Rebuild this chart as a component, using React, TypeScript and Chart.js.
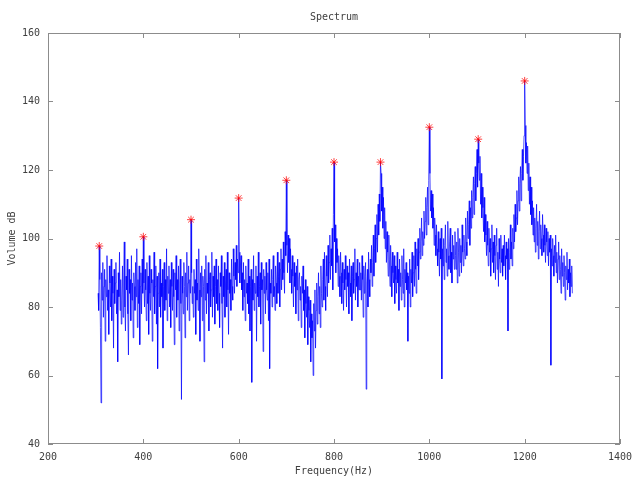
import React, { useEffect, useRef } from "react";
import { Chart, registerables } from "chart.js";

Chart.register(...registerables);

const freqStart = 305;
const freqStep = 1.25;

// one row = 50 Hz (40 samples)
const volumeDb: number[] = [
  // 305
  84, 79, 97.8, 88, 74, 52, 90, 82, 93, 77, 86, 91, 70, 88, 83, 95, 79, 85, 72, 92, 87, 80, 94, 76, 89, 84, 68, 91, 81, 87, 93, 78, 85, 64, 90, 83, 96, 79, 88, 75,
  // 355
  82, 92, 77, 87, 99, 80, 73, 89, 85, 94, 78, 66, 91, 84, 88, 76, 95, 82, 87, 71, 90, 86, 79, 93, 83, 97, 74, 88, 81, 92, 69, 86, 90, 78, 94, 84, 100.5, 87, 80, 91,
  // 405
  85, 76, 93, 81, 89, 72, 95, 84, 79, 91, 87, 70, 88, 83, 96, 78, 86, 92, 75, 89, 62, 84, 90, 80, 94, 77, 87, 83, 91, 68, 86, 93, 79, 88, 82, 97, 76, 89, 84, 92,
  // 455
  80, 88, 74, 93, 86, 79, 91, 83, 69, 90, 85, 95, 77, 88, 82, 92, 73, 87, 94, 81, 53, 89, 84, 78, 93, 86, 71, 90, 83, 96, 79, 87, 92, 76, 88, 84, 105.5, 90, 81, 86,
  // 505
  77, 91, 84, 88, 72, 94, 82, 87, 79, 97, 85, 70, 90, 83, 92, 76, 89, 86, 64, 91, 82, 95, 78, 87, 84, 93, 73, 88, 90, 80, 85, 96, 77, 89, 83, 92, 75, 86, 94, 81,
  // 555
  88, 79, 92, 84, 74, 90, 86, 95, 81, 68, 89, 83, 93, 77, 87, 91, 80, 96, 85, 72, 90, 84, 88, 79, 94, 86, 82, 97, 89, 84, 93, 88, 98, 86, 94, 90, 111.8, 96, 87, 92,
  // 605
  95, 85, 90, 79, 93, 83, 88, 76, 92, 84, 87, 81, 94, 78, 89, 73, 86, 91, 58, 88, 82, 95, 79, 87, 84, 92, 70, 89, 83, 96, 80, 86, 90, 75, 93, 85, 88, 67, 91, 84,
  // 655
  89, 78, 93, 85, 82, 90, 76, 94, 62, 87, 84, 91, 80, 88, 95, 83, 86, 79, 92, 87, 81, 96, 84, 89, 93, 80, 91, 97, 85, 94, 88, 99, 90, 84, 102, 95, 117, 98, 90, 101,
  // 705
  93, 100, 87, 97, 91, 84, 95, 89, 80, 93, 86, 90, 78, 92, 85, 94, 76, 88, 90, 82, 86, 74, 89, 84, 92, 79, 85, 71, 88, 81, 77, 86, 69, 83, 79, 74, 82, 64, 78, 71,
  // 755
  76, 60, 81, 73, 85, 68, 79, 87, 75, 83, 90, 78, 86, 74, 92, 84, 80, 88, 94, 82, 96, 86, 79, 95, 89, 83, 98, 87, 93, 101, 88, 97, 92, 103, 85, 107, 122.3, 99, 104, 90,
  // 805
  100, 93, 97, 86, 95, 89, 83, 96, 90, 81, 93, 87, 79, 91, 85, 95, 88, 80, 92, 86, 90, 78, 94, 87, 83, 92, 76, 89, 93, 84, 88, 97, 82, 90, 86, 94, 80, 89, 85, 93,
  // 855
  85, 90, 82, 95, 88, 77, 92, 84, 89, 93, 56, 87, 91, 80, 96, 88, 83, 94, 90, 98, 86, 93, 101, 89, 97, 104, 93, 100, 107, 96, 110, 101, 113, 105, 122.3, 119, 108, 115, 103, 112,
  // 905
  100, 109, 97, 105, 93, 102, 96, 89, 101, 94, 86, 98, 92, 83, 96, 90, 87, 95, 81, 92, 88, 84, 96, 87, 91, 79, 94, 86, 90, 82, 95, 88, 84, 97, 80, 91, 87, 93, 85, 90,
  // 955
  70, 89, 84, 94, 80, 91, 87, 96, 83, 90, 95, 86, 99, 91, 84, 97, 92, 100, 88, 96, 103, 94, 99, 106, 95, 102, 98, 108, 100, 105, 112, 101, 109, 115, 104, 117, 132.5, 119, 108, 114,
  // 1005
  106, 113, 103, 109, 98, 106, 101, 95, 104, 97, 92, 102, 96, 89, 100, 94, 103, 59, 97, 92, 100, 88, 98, 104, 93, 97, 89, 105, 95, 91, 99, 103, 90, 96, 87, 101, 94, 98, 91, 102,
  // 1055
  95, 91, 99, 87, 103, 96, 89, 100, 93, 98, 90, 104, 96, 92, 101, 97, 94, 106, 99, 95, 108, 100, 104, 111, 98, 109, 103, 114, 106, 112, 118, 107, 116, 121, 111, 119, 126, 115, 129, 122,
  // 1105
  117, 124, 110, 119, 106, 115, 109, 102, 112, 99, 107, 101, 95, 105, 98, 92, 103, 96, 100, 89, 97, 104, 93, 99, 90, 101, 95, 88, 98, 103, 91, 96, 86, 100, 94, 90, 101, 93, 97, 89,
  // 1155
  98, 92, 101, 95, 88, 99, 94, 97, 73, 100, 91, 96, 104, 94, 99, 92, 103, 97, 107, 99, 110, 102, 106, 114, 104, 111, 118, 108, 116, 121, 111, 119, 126, 117, 124, 130, 146, 133, 122, 128,
  // 1205
  119, 127, 114, 122, 110, 118, 107, 115, 104, 111, 101, 109, 99, 106, 96, 103, 110, 98, 105, 94, 102, 108, 97, 104, 100, 95, 107, 101, 96, 104, 98, 93, 103, 99, 95, 102, 92, 100, 96, 101,
  // 1255 - 1300
  63, 97, 92, 100, 95, 89, 98, 93, 101, 90, 96, 87, 94, 99, 88, 95, 91, 84, 97, 89, 93, 86, 95, 90, 82, 92, 88, 96, 85, 91, 87, 94, 83, 90, 86, 92, 84,
];

const peakFreqs: number[] = [307.5, 400, 500, 600, 700, 800, 897.5, 1000, 1102.5, 1200];
const peakValues: number[] = [97.8, 100.5, 105.5, 111.8, 117, 122.3, 122.3, 132.5, 129, 146];

const xTicks: number[] = [200, 400, 600, 800, 1000, 1200, 1400];
const yTicks: number[] = [40, 60, 80, 100, 120, 140, 160];

const FONT = "'DejaVu Sans Mono', 'Liberation Mono', monospace";

const framePlugin = {
  id: "frame",
  afterDraw(chart: any) {
    const { ctx, chartArea } = chart;
    const xs = chart.scales.x;
    const ys = chart.scales.y;
    const { left, right, top, bottom } = chartArea;
    ctx.save();
    ctx.strokeStyle = "#8c8c8c";
    ctx.lineWidth = 1;
    ctx.strokeRect(left + 0.5, top + 0.5, right - left - 1, bottom - top - 1);
    ctx.beginPath();
    const tl = 5;
    xTicks.forEach((v) => {
      const px = Math.round(xs.getPixelForValue(v)) + 0.5;
      ctx.moveTo(px, bottom);
      ctx.lineTo(px, bottom - tl);
      ctx.moveTo(px, top);
      ctx.lineTo(px, top + tl);
    });
    yTicks.forEach((v) => {
      const py = Math.round(ys.getPixelForValue(v)) + 0.5;
      ctx.moveTo(left, py);
      ctx.lineTo(left + tl, py);
      ctx.moveTo(right, py);
      ctx.lineTo(right - tl, py);
    });
    ctx.stroke();

    ctx.fillStyle = "#404040";
    ctx.font = `10px ${FONT}`;
    ctx.textAlign = "center";
    ctx.textBaseline = "middle";
    const cx = (left + right) / 2;
    ctx.fillText("Spectrum", cx, 17);
    ctx.fillText("Frequency(Hz)", cx, 471);
    ctx.translate(12, (top + bottom) / 2);
    ctx.rotate(-Math.PI / 2);
    ctx.fillText("Volume dB", 0, 0);
    ctx.restore();
  },
};

export default function App() {
  const canvasRef = useRef<HTMLCanvasElement | null>(null);

  useEffect(() => {
    if (!canvasRef.current) return;
    const lineData = volumeDb.map((v, i) => ({ x: freqStart + i * freqStep, y: v }));
    const peakData = peakFreqs.map((f, i) => ({ x: f, y: peakValues[i] }));
    const chart = new Chart(canvasRef.current, {
      type: "line",
      data: {
        datasets: [
          {
            label: "peaks",
            data: peakData,
            showLine: false,
            pointStyle: "star",
            pointRadius: 4,
            pointBorderColor: "rgba(255,0,0,0.75)",
            pointBorderWidth: 1,
            pointBackgroundColor: "#ff0000",
            borderColor: "#ff0000",
          },
          {
            label: "spectrum",
            data: lineData,
            borderColor: "#0000ff",
            borderWidth: 0.7,
            pointRadius: 0,
            tension: 0,
            fill: false,
          },
        ],
      },
      options: {
        responsive: false,
        animation: false,
        events: [],
        layout: { padding: { top: 33, right: 20, left: 0, bottom: 0 } },
        plugins: {
          legend: { display: false },
          title: { display: false },
          tooltip: { enabled: false },
        },
        scales: {
          x: {
            type: "linear",
            min: 200,
            max: 1400,
            afterFit: (s: any) => {
              s.height = 36;
            },
            afterBuildTicks: (s: any) => {
              s.ticks = xTicks.map((v) => ({ value: v }));
            },
            grid: { display: false, drawTicks: false },
            border: { display: false },
            ticks: {
              padding: 7,
              color: "#404040",
              font: { family: FONT, size: 10 },
              maxRotation: 0,
              autoSkip: false,
              callback: (v: any) => String(v),
            },
          },
          y: {
            type: "linear",
            min: 40,
            max: 160,
            afterFit: (s: any) => {
              s.width = 48;
            },
            afterBuildTicks: (s: any) => {
              s.ticks = yTicks.map((v) => ({ value: v }));
            },
            grid: { display: false, drawTicks: false },
            border: { display: false },
            ticks: {
              padding: 8,
              color: "#404040",
              font: { family: FONT, size: 10 },
              autoSkip: false,
              callback: (v: any) => String(v),
            },
          },
        },
      },
      plugins: [framePlugin],
    });
    return () => chart.destroy();
  }, []);

  return (
    <div style={{ position: "fixed", left: 0, top: 0, width: 640, height: 480, background: "#fff" }}>
      <canvas ref={canvasRef} width={640} height={480} style={{ width: 640, height: 480 }} />
    </div>
  );
}
